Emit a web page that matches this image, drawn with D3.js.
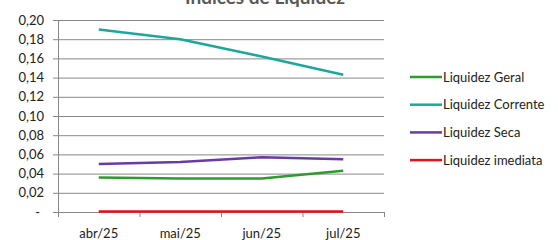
<!DOCTYPE html>
<html><head><meta charset="utf-8">
<script src="https://cdn.jsdelivr.net/npm/d3@7"></script>
<style>body{margin:0;background:#fff}svg{display:block}</style>
</head><body>
<svg id="c" width="558" height="240"></svg>
<script>
const months = ["abr/25","mai/25","jun/25","jul/25"];
const liquidezGeral = [0.036, 0.035, 0.035, 0.043];
const liquidezCorrente = [0.190, 0.180, 0.162, 0.143];
const liquidezSeca = [0.050, 0.052, 0.057, 0.055];
const liquidezImediata = [0.0005, 0.0005, 0.0005, 0.0004];
const seriesNames = ["Liquidez Geral","Liquidez Corrente","Liquidez Seca","Liquidez imediata"];
const seriesColors = ["#2f9a2f","#1ba89c","#6a3aa6","#e3121a"];
const yTicks = [0,0.02,0.04,0.06,0.08,0.10,0.12,0.14,0.16,0.18,0.20];

const series = [liquidezGeral, liquidezCorrente, liquidezSeca, liquidezImediata];
const svg = d3.select("#c");
const font = "Lato, 'Open Sans', sans-serif";
const L=58, R=384, T=20, B=212;
const x = d3.scaleBand().domain(months).range([L,R]);
const y = d3.scaleLinear().domain([0,0.20]).range([B,T]);
const fmt = v => v===0 ? "-" : d3.format(".2f")(v).replace(".",",");

svg.append("g").selectAll("line").data(yTicks).join("line")
  .attr("x1",L-5).attr("x2",R).attr("y1",d=>y(d)+0.5).attr("y2",d=>y(d)+0.5)
  .attr("stroke","#888").attr("stroke-width",1);
svg.append("line").attr("x1",L+0.5).attr("x2",L+0.5).attr("y1",T).attr("y2",B+5)
  .attr("stroke","#888");
const xt = months.map(m=>x(m)).concat([R]);
svg.append("g").selectAll("line").data(xt).join("line")
  .attr("x1",d=>d+0.5).attr("x2",d=>d+0.5).attr("y1",B).attr("y2",B+5).attr("stroke","#888");
svg.append("g").selectAll("text").data(yTicks).join("text")
  .attr("x",d=>d===0?40:44).attr("y",d=>y(d)+4.5).attr("text-anchor","end")
  .attr("font-family",font).attr("font-size",13).attr("fill","#222").text(fmt);
svg.append("g").selectAll("text").data(months).join("text")
  .attr("x",d=>x(d)+x.bandwidth()/2).attr("y",B+26).attr("text-anchor","middle")
  .attr("font-family",font).attr("font-size",13).attr("fill","#222").text(d=>d);
const line = d3.line().x((d,i)=>x(months[i])+x.bandwidth()/2).y(d=>y(d));
svg.append("g").selectAll("path").data(series).join("path")
  .attr("d",line).attr("fill","none").attr("stroke",(d,i)=>seriesColors[i])
  .attr("stroke-width",2.5).attr("stroke-linejoin","round");
svg.append("text").attr("x",265).attr("y",4).attr("text-anchor","middle")
  .attr("font-family",font).attr("font-weight","bold").attr("font-size",19)
  .attr("fill","#595959").text("Índices de Liquidez");
const lg = svg.append("g").selectAll("g").data(seriesNames).join("g")
  .attr("transform",(d,i)=>`translate(410,${77+i*27.7})`);
lg.append("line").attr("x1",0).attr("x2",32).attr("y1",0).attr("y2",0)
  .attr("stroke",(d,i)=>seriesColors[i]).attr("stroke-width",2.5);
lg.append("text").attr("x",33).attr("y",4.5).attr("font-family",font).attr("font-size",13)
  .attr("fill","#222").text(d=>d);
</script>
</body></html>
